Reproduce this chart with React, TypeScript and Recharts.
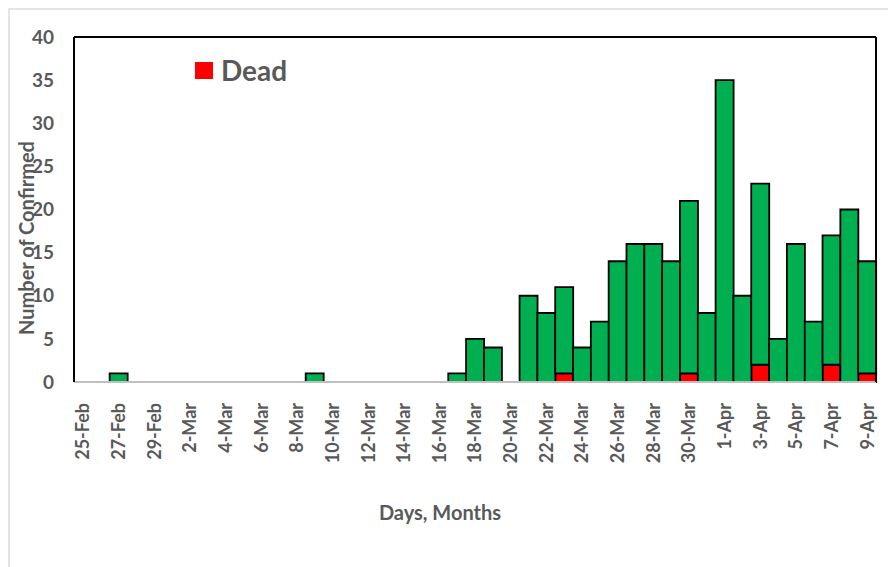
import { BarChart, Bar, XAxis, YAxis } from 'recharts'

const DAYS = [
  '25-Feb', '26-Feb', '27-Feb', '28-Feb', '29-Feb',
  '1-Mar', '2-Mar', '3-Mar', '4-Mar', '5-Mar', '6-Mar', '7-Mar', '8-Mar', '9-Mar', '10-Mar',
  '11-Mar', '12-Mar', '13-Mar', '14-Mar', '15-Mar', '16-Mar', '17-Mar', '18-Mar', '19-Mar', '20-Mar',
  '21-Mar', '22-Mar', '23-Mar', '24-Mar', '25-Mar', '26-Mar', '27-Mar', '28-Mar', '29-Mar', '30-Mar',
  '31-Mar', '1-Apr', '2-Apr', '3-Apr', '4-Apr', '5-Apr', '6-Apr', '7-Apr', '8-Apr', '9-Apr',
]

const CONFIRMED = [
  0, 0, 1, 0, 0,
  0, 0, 0, 0, 0, 0, 0, 0, 1, 0,
  0, 0, 0, 0, 0, 0, 1, 5, 4, 0,
  10, 8, 11, 4, 7, 14, 16, 16, 14, 21,
  8, 35, 10, 23, 5, 16, 7, 17, 20, 14,
]

const DEAD = [
  0, 0, 0, 0, 0,
  0, 0, 0, 0, 0, 0, 0, 0, 0, 0,
  0, 0, 0, 0, 0, 0, 0, 0, 0, 0,
  0, 0, 1, 0, 0, 0, 0, 0, 0, 1,
  0, 0, 0, 2, 0, 0, 0, 2, 0, 1,
]

const Y_TICKS = [0, 5, 10, 15, 20, 25, 30, 35, 40]

const data = DAYS.map((day, i) => ({
  day,
  dead: DEAD[i],
  rest: CONFIRMED[i] - DEAD[i],
}))

const FONT = 'Lato, "Open Sans", sans-serif'
const GRAY = '#595959'

function DayTick({ x, y, payload }: any) {
  return (
    <g transform={`translate(${x},${y})`}>
      <text
        transform="rotate(-90)"
        x={-13}
        dy="0.36em"
        textAnchor="end"
        fill={GRAY}
        fontSize={18}
        fontWeight={700}
        fontFamily={FONT}
      >
        {payload.value}
      </text>
    </g>
  )
}

export default function App() {
  return (
    <div
      style={{
        width: 886,
        height: 557,
        borderTop: '2px solid #e4e4e4',
        borderLeft: '2px solid #e4e4e4',
        position: 'relative',
      }}
    >
      <BarChart
        width={886}
        height={557}
        data={data}
        margin={{ top: 26, right: 19, left: 0, bottom: 0 }}
        barCategoryGap={0}
      >
        <XAxis
          dataKey="day"
          interval={1}
          height={185}
          tick={<DayTick />}
          tickLine={false}
          axisLine={{ stroke: '#bfbfbf', strokeWidth: 2 }}
          label={{
            content: () => (
              <text
                x={430}
                y={510}
                textAnchor="middle"
                fill={GRAY}
                fontSize={20}
                fontWeight={700}
                fontFamily={FONT}
              >
                Days, Months
              </text>
            ),
          }}
        />
        <XAxis xAxisId="top" orientation="top" dataKey="day" height={1} tick={false} tickLine={false} axisLine={{ stroke: '#000', strokeWidth: 2 }} />
        <YAxis
          domain={[0, 40]}
          ticks={Y_TICKS}
          width={64}
          tickSize={0}
          tickMargin={20}
          tick={{ fill: GRAY, fontSize: 19, fontWeight: 700, fontFamily: FONT }}
          axisLine={{ stroke: '#000', strokeWidth: 2 }}
          label={{
            content: () => (
              <text
                x={24}
                y={228}
                transform="rotate(-90 24 228)"
                textAnchor="middle"
                fill={GRAY}
                fontSize={20}
                fontWeight={700}
                fontFamily={FONT}
              >
                Number of Confirmed
              </text>
            ),
          }}
        />
        <YAxis yAxisId="right" orientation="right" domain={[0, 40]} width={1} tick={false} tickLine={false} axisLine={{ stroke: '#000', strokeWidth: 2 }} />
        <Bar dataKey="dead" stackId="a" fill="#ff0000" stroke="#000" strokeWidth={1.8} isAnimationActive={false} />
        <Bar dataKey="rest" stackId="a" fill="#00b050" stroke="#000" strokeWidth={1.8} isAnimationActive={false} />
      </BarChart>
      <div
        style={{
          position: 'absolute',
          top: 45,
          left: 185,
          display: 'flex',
          alignItems: 'center',
          fontFamily: FONT,
        }}
      >
        <span style={{ width: 18, height: 17, background: '#ff0000', display: 'inline-block', marginRight: 8 }} />
        <span style={{ fontSize: 28, fontWeight: 700, color: GRAY, lineHeight: '30px' }}>Dead</span>
      </div>
    </div>
  )
}
